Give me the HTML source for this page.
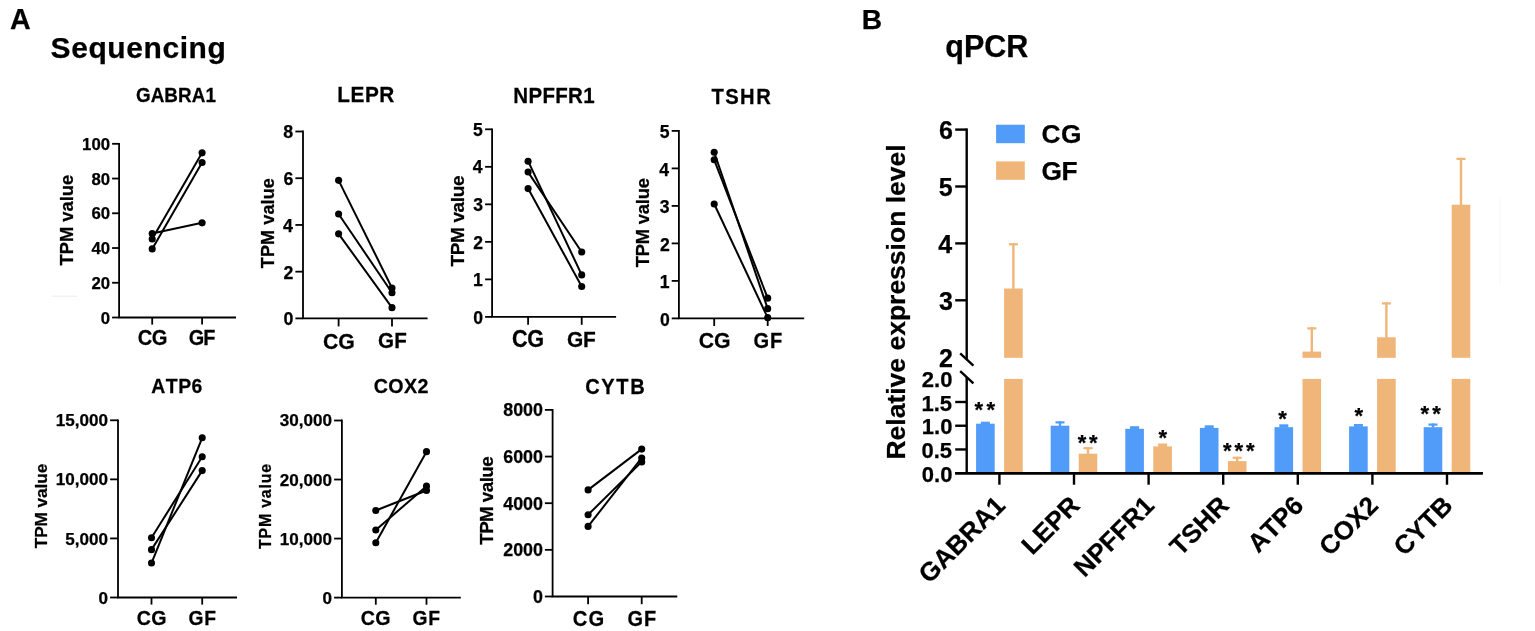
<!DOCTYPE html>
<html><head><meta charset="utf-8"><title>Sequencing and qPCR</title>
<style>
html,body{margin:0;padding:0;background:#fff;}
body{width:1535px;height:631px;overflow:hidden;}
svg{display:block;font-family:"Liberation Sans", Arial, Helvetica, sans-serif;font-weight:bold;font-kerning:none;}
text{stroke:#000;stroke-width:0.25px;}
</style></head>
<body>
<svg width="1535" height="631" viewBox="0 0 1535 631" fill="#000">
<rect width="1535" height="631" fill="#fff"/>
<text transform="translate(9.94,29.05)" font-size="28.63">A</text>
<text transform="translate(50.59,57.90)" font-size="30.00" letter-spacing="0.572">Sequencing</text>
<path d="M119.10,142.90V317.50H236.00" fill="none" stroke="#000" stroke-width="1.8" stroke-linejoin="miter"/>
<line x1="112.10" y1="317.50" x2="119.10" y2="317.50" stroke="#000" stroke-width="1.8"/>
<text x="100.75" y="323.58" font-size="16.80">0</text>
<line x1="112.10" y1="282.76" x2="119.10" y2="282.76" stroke="#000" stroke-width="1.8"/>
<text x="91.40" y="288.84" font-size="16.80">20</text>
<line x1="112.10" y1="248.02" x2="119.10" y2="248.02" stroke="#000" stroke-width="1.8"/>
<text x="91.40" y="254.10" font-size="16.80">40</text>
<line x1="112.10" y1="213.28" x2="119.10" y2="213.28" stroke="#000" stroke-width="1.8"/>
<text x="91.40" y="219.36" font-size="16.80">60</text>
<line x1="112.10" y1="178.54" x2="119.10" y2="178.54" stroke="#000" stroke-width="1.8"/>
<text x="91.40" y="184.62" font-size="16.80">80</text>
<line x1="112.10" y1="143.80" x2="119.10" y2="143.80" stroke="#000" stroke-width="1.8"/>
<text x="82.06" y="149.88" font-size="16.80">100</text>
<line x1="152.20" y1="317.50" x2="152.20" y2="324.60" stroke="#000" stroke-width="1.8"/>
<line x1="202.10" y1="317.50" x2="202.10" y2="324.60" stroke="#000" stroke-width="1.8"/>
<text transform="translate(137.72,345.09) scale(0.935,1)" font-size="21.54" letter-spacing="-0.571">CG</text>
<text transform="translate(188.73,344.94) scale(0.935,1)" font-size="21.33" letter-spacing="-0.956">GF</text>
<text transform="translate(135.88,101.75) scale(0.935,1)" font-size="20.20" letter-spacing="0.076">GABRA1</text>
<text transform="translate(73.07,265.56) rotate(-90)" font-size="18.38">TPM value</text>
<line x1="152.20" y1="233.60" x2="202.10" y2="222.83" stroke="#000" stroke-width="2.0"/>
<line x1="152.20" y1="238.99" x2="202.10" y2="152.83" stroke="#000" stroke-width="2.0"/>
<line x1="152.20" y1="248.89" x2="202.10" y2="162.56" stroke="#000" stroke-width="2.0"/>
<circle cx="152.20" cy="233.60" r="3.55"/>
<circle cx="202.10" cy="222.83" r="3.55"/>
<circle cx="152.20" cy="238.99" r="3.55"/>
<circle cx="202.10" cy="152.83" r="3.55"/>
<circle cx="152.20" cy="248.89" r="3.55"/>
<circle cx="202.10" cy="162.56" r="3.55"/>
<path d="M303.00,130.60V318.40H427.60" fill="none" stroke="#000" stroke-width="1.8" stroke-linejoin="miter"/>
<line x1="295.40" y1="318.40" x2="303.00" y2="318.40" stroke="#000" stroke-width="1.8"/>
<text x="283.53" y="325.32" font-size="17.80">0</text>
<line x1="295.40" y1="271.67" x2="303.00" y2="271.67" stroke="#000" stroke-width="1.8"/>
<text x="283.51" y="278.60" font-size="17.80">2</text>
<line x1="295.40" y1="224.95" x2="303.00" y2="224.95" stroke="#000" stroke-width="1.8"/>
<text x="282.90" y="231.87" font-size="17.80">4</text>
<line x1="295.40" y1="178.22" x2="303.00" y2="178.22" stroke="#000" stroke-width="1.8"/>
<text x="283.44" y="185.15" font-size="17.80">6</text>
<line x1="295.40" y1="131.50" x2="303.00" y2="131.50" stroke="#000" stroke-width="1.8"/>
<text x="283.35" y="138.42" font-size="17.80">8</text>
<line x1="338.60" y1="318.40" x2="338.60" y2="326.40" stroke="#000" stroke-width="1.8"/>
<line x1="392.00" y1="318.40" x2="392.00" y2="326.40" stroke="#000" stroke-width="1.8"/>
<text transform="translate(322.88,348.53) scale(0.935,1)" font-size="22.74">CG</text>
<text transform="translate(377.96,348.23) scale(0.935,1)" font-size="22.03" letter-spacing="0.257">GF</text>
<text transform="translate(337.16,102.25) scale(0.935,1)" font-size="22.24" letter-spacing="0.628">LEPR</text>
<text transform="translate(273.57,268.25) rotate(-90)" font-size="18.11" letter-spacing="0.069">TPM value</text>
<line x1="338.60" y1="180.33" x2="392.00" y2="288.03" stroke="#000" stroke-width="2.0"/>
<line x1="338.60" y1="213.97" x2="392.00" y2="292.70" stroke="#000" stroke-width="2.0"/>
<line x1="338.60" y1="233.83" x2="392.00" y2="307.65" stroke="#000" stroke-width="2.0"/>
<circle cx="338.60" cy="180.33" r="3.55"/>
<circle cx="392.00" cy="288.03" r="3.55"/>
<circle cx="338.60" cy="213.97" r="3.55"/>
<circle cx="392.00" cy="292.70" r="3.55"/>
<circle cx="338.60" cy="233.83" r="3.55"/>
<circle cx="392.00" cy="307.65" r="3.55"/>
<path d="M492.10,128.40V316.90H616.10" fill="none" stroke="#000" stroke-width="1.8" stroke-linejoin="miter"/>
<line x1="485.10" y1="316.90" x2="492.10" y2="316.90" stroke="#000" stroke-width="1.8"/>
<text x="473.33" y="323.55" font-size="17.60">0</text>
<line x1="485.10" y1="279.38" x2="492.10" y2="279.38" stroke="#000" stroke-width="1.8"/>
<text x="473.10" y="286.03" font-size="17.60">1</text>
<line x1="485.10" y1="241.86" x2="492.10" y2="241.86" stroke="#000" stroke-width="1.8"/>
<text x="473.32" y="248.51" font-size="17.60">2</text>
<line x1="485.10" y1="204.34" x2="492.10" y2="204.34" stroke="#000" stroke-width="1.8"/>
<text x="473.25" y="210.99" font-size="17.60">3</text>
<line x1="485.10" y1="166.82" x2="492.10" y2="166.82" stroke="#000" stroke-width="1.8"/>
<text x="472.71" y="173.47" font-size="17.60">4</text>
<line x1="485.10" y1="129.30" x2="492.10" y2="129.30" stroke="#000" stroke-width="1.8"/>
<text x="473.10" y="135.95" font-size="17.60">5</text>
<line x1="528.10" y1="316.90" x2="528.10" y2="324.80" stroke="#000" stroke-width="1.8"/>
<line x1="581.70" y1="316.90" x2="581.70" y2="324.80" stroke="#000" stroke-width="1.8"/>
<text transform="translate(511.96,347.02) scale(0.935,1)" font-size="23.16" letter-spacing="-0.273">CG</text>
<text transform="translate(567.09,346.68) scale(0.935,1)" font-size="22.39" letter-spacing="-0.259">GF</text>
<text transform="translate(513.28,102.95) scale(0.935,1)" font-size="21.95" letter-spacing="0.328">NPFFR1</text>
<text transform="translate(464.06,266.46) rotate(-90)" font-size="19.06" letter-spacing="-0.403">TPM value</text>
<line x1="528.10" y1="161.19" x2="581.70" y2="274.88" stroke="#000" stroke-width="2.0"/>
<line x1="528.10" y1="172.07" x2="581.70" y2="251.99" stroke="#000" stroke-width="2.0"/>
<line x1="528.10" y1="188.58" x2="581.70" y2="286.51" stroke="#000" stroke-width="2.0"/>
<circle cx="528.10" cy="161.19" r="3.55"/>
<circle cx="581.70" cy="274.88" r="3.55"/>
<circle cx="528.10" cy="172.07" r="3.55"/>
<circle cx="581.70" cy="251.99" r="3.55"/>
<circle cx="528.10" cy="188.58" r="3.55"/>
<circle cx="581.70" cy="286.51" r="3.55"/>
<path d="M678.90,130.00V318.40H804.20" fill="none" stroke="#000" stroke-width="1.8" stroke-linejoin="miter"/>
<line x1="671.70" y1="318.40" x2="678.90" y2="318.40" stroke="#000" stroke-width="1.8"/>
<text x="659.93" y="325.55" font-size="17.60">0</text>
<line x1="671.70" y1="280.90" x2="678.90" y2="280.90" stroke="#000" stroke-width="1.8"/>
<text x="659.70" y="288.05" font-size="17.60">1</text>
<line x1="671.70" y1="243.40" x2="678.90" y2="243.40" stroke="#000" stroke-width="1.8"/>
<text x="659.92" y="250.55" font-size="17.60">2</text>
<line x1="671.70" y1="205.90" x2="678.90" y2="205.90" stroke="#000" stroke-width="1.8"/>
<text x="659.85" y="213.05" font-size="17.60">3</text>
<line x1="671.70" y1="168.40" x2="678.90" y2="168.40" stroke="#000" stroke-width="1.8"/>
<text x="659.31" y="175.55" font-size="17.60">4</text>
<line x1="671.70" y1="130.90" x2="678.90" y2="130.90" stroke="#000" stroke-width="1.8"/>
<text x="659.70" y="138.05" font-size="17.60">5</text>
<line x1="714.20" y1="318.40" x2="714.20" y2="326.00" stroke="#000" stroke-width="1.8"/>
<line x1="767.70" y1="318.40" x2="767.70" y2="326.00" stroke="#000" stroke-width="1.8"/>
<text transform="translate(698.68,348.23) scale(0.935,1)" font-size="22.74">CG</text>
<text transform="translate(753.53,347.64) scale(0.935,1)" font-size="21.47" letter-spacing="0.945">GF</text>
<text transform="translate(711.42,104.14) scale(0.935,1)" font-size="21.61" letter-spacing="1.547">TSHR</text>
<text transform="translate(649.07,267.26) rotate(-90)" font-size="18.38" letter-spacing="-0.198">TPM value</text>
<line x1="714.20" y1="152.28" x2="767.70" y2="308.65" stroke="#000" stroke-width="2.0"/>
<line x1="714.20" y1="159.77" x2="767.70" y2="298.15" stroke="#000" stroke-width="2.0"/>
<line x1="714.20" y1="204.03" x2="767.70" y2="317.65" stroke="#000" stroke-width="2.0"/>
<circle cx="714.20" cy="152.28" r="3.55"/>
<circle cx="767.70" cy="308.65" r="3.55"/>
<circle cx="714.20" cy="159.77" r="3.55"/>
<circle cx="767.70" cy="298.15" r="3.55"/>
<circle cx="714.20" cy="204.03" r="3.55"/>
<circle cx="767.70" cy="317.65" r="3.55"/>
<path d="M118.00,419.40V597.50H237.00" fill="none" stroke="#000" stroke-width="1.8" stroke-linejoin="miter"/>
<line x1="110.10" y1="597.50" x2="118.00" y2="597.50" stroke="#000" stroke-width="1.8"/>
<text x="98.59" y="603.58" font-size="17.10">0</text>
<line x1="110.10" y1="538.43" x2="118.00" y2="538.43" stroke="#000" stroke-width="1.8"/>
<text x="65.31" y="544.52" font-size="17.10">5,000</text>
<line x1="110.10" y1="479.37" x2="118.00" y2="479.37" stroke="#000" stroke-width="1.8"/>
<text x="55.80" y="485.45" font-size="17.10">10,000</text>
<line x1="110.10" y1="420.30" x2="118.00" y2="420.30" stroke="#000" stroke-width="1.8"/>
<text x="55.80" y="426.38" font-size="17.10">15,000</text>
<line x1="151.50" y1="597.50" x2="151.50" y2="604.60" stroke="#000" stroke-width="1.8"/>
<line x1="202.20" y1="597.50" x2="202.20" y2="604.60" stroke="#000" stroke-width="1.8"/>
<text transform="translate(136.74,625.14) scale(0.935,1)" font-size="21.04" letter-spacing="0.440">CG</text>
<text transform="translate(188.46,625.05) scale(0.935,1)" font-size="20.62" letter-spacing="0.772">GF</text>
<text transform="translate(151.27,392.55) scale(0.935,1)" font-size="20.76" letter-spacing="0.557">ATP6</text>
<text transform="translate(46.68,548.24) rotate(-90)" font-size="17.23" letter-spacing="-0.089">TPM value</text>
<line x1="151.50" y1="537.72" x2="202.20" y2="456.80" stroke="#000" stroke-width="2.0"/>
<line x1="151.50" y1="549.66" x2="202.20" y2="470.62" stroke="#000" stroke-width="2.0"/>
<line x1="151.50" y1="563.01" x2="202.20" y2="437.78" stroke="#000" stroke-width="2.0"/>
<circle cx="151.50" cy="537.72" r="3.55"/>
<circle cx="202.20" cy="456.80" r="3.55"/>
<circle cx="151.50" cy="549.66" r="3.55"/>
<circle cx="202.20" cy="470.62" r="3.55"/>
<circle cx="151.50" cy="563.01" r="3.55"/>
<circle cx="202.20" cy="437.78" r="3.55"/>
<path d="M341.90,419.60V597.60H460.80" fill="none" stroke="#000" stroke-width="1.8" stroke-linejoin="miter"/>
<line x1="334.10" y1="597.60" x2="341.90" y2="597.60" stroke="#000" stroke-width="1.8"/>
<text x="322.59" y="603.58" font-size="17.10">0</text>
<line x1="334.10" y1="538.57" x2="341.90" y2="538.57" stroke="#000" stroke-width="1.8"/>
<text x="279.80" y="544.55" font-size="17.10">10,000</text>
<line x1="334.10" y1="479.53" x2="341.90" y2="479.53" stroke="#000" stroke-width="1.8"/>
<text x="279.80" y="485.52" font-size="17.10">20,000</text>
<line x1="334.10" y1="420.50" x2="341.90" y2="420.50" stroke="#000" stroke-width="1.8"/>
<text x="279.80" y="426.48" font-size="17.10">30,000</text>
<line x1="375.80" y1="597.60" x2="375.80" y2="604.70" stroke="#000" stroke-width="1.8"/>
<line x1="426.50" y1="597.60" x2="426.50" y2="604.70" stroke="#000" stroke-width="1.8"/>
<text transform="translate(360.84,625.14) scale(0.935,1)" font-size="21.04" letter-spacing="0.333">CG</text>
<text transform="translate(412.56,625.05) scale(0.935,1)" font-size="20.62" letter-spacing="0.772">GF</text>
<text transform="translate(373.64,392.54) scale(0.935,1)" font-size="21.04" letter-spacing="0.432">COX2</text>
<text transform="translate(270.59,549.03) rotate(-90)" font-size="15.93" letter-spacing="0.803">TPM value</text>
<line x1="375.80" y1="510.53" x2="426.50" y2="490.45" stroke="#000" stroke-width="2.0"/>
<line x1="375.80" y1="530.01" x2="426.50" y2="486.15" stroke="#000" stroke-width="2.0"/>
<line x1="375.80" y1="542.70" x2="426.50" y2="451.67" stroke="#000" stroke-width="2.0"/>
<circle cx="375.80" cy="510.53" r="3.55"/>
<circle cx="426.50" cy="490.45" r="3.55"/>
<circle cx="375.80" cy="530.01" r="3.55"/>
<circle cx="426.50" cy="486.15" r="3.55"/>
<circle cx="375.80" cy="542.70" r="3.55"/>
<circle cx="426.50" cy="451.67" r="3.55"/>
<path d="M552.60,409.00V596.50H677.30" fill="none" stroke="#000" stroke-width="1.8" stroke-linejoin="miter"/>
<line x1="544.90" y1="596.50" x2="552.60" y2="596.50" stroke="#000" stroke-width="1.8"/>
<text x="533.00" y="602.94" font-size="17.85">0</text>
<line x1="544.90" y1="549.85" x2="552.60" y2="549.85" stroke="#000" stroke-width="1.8"/>
<text x="503.22" y="556.29" font-size="17.85">2000</text>
<line x1="544.90" y1="503.20" x2="552.60" y2="503.20" stroke="#000" stroke-width="1.8"/>
<text x="503.22" y="509.64" font-size="17.85">4000</text>
<line x1="544.90" y1="456.55" x2="552.60" y2="456.55" stroke="#000" stroke-width="1.8"/>
<text x="503.22" y="462.99" font-size="17.85">6000</text>
<line x1="544.90" y1="409.90" x2="552.60" y2="409.90" stroke="#000" stroke-width="1.8"/>
<text x="503.22" y="416.34" font-size="17.85">8000</text>
<line x1="588.10" y1="596.50" x2="588.10" y2="604.20" stroke="#000" stroke-width="1.8"/>
<line x1="641.70" y1="596.50" x2="641.70" y2="604.20" stroke="#000" stroke-width="1.8"/>
<text transform="translate(572.82,625.64) scale(0.935,1)" font-size="21.61" letter-spacing="1.148">CG</text>
<text transform="translate(627.53,625.54) scale(0.935,1)" font-size="21.33" letter-spacing="0.916">GF</text>
<text transform="translate(585.23,393.64) scale(0.935,1)" font-size="21.47" letter-spacing="1.708">CYTB</text>
<text transform="translate(492.57,544.76) rotate(-90)" font-size="18.79" letter-spacing="-0.561">TPM value</text>
<line x1="588.10" y1="489.90" x2="641.70" y2="449.09" stroke="#000" stroke-width="2.0"/>
<line x1="588.10" y1="514.75" x2="641.70" y2="461.91" stroke="#000" stroke-width="2.0"/>
<line x1="588.10" y1="526.41" x2="641.70" y2="457.95" stroke="#000" stroke-width="2.0"/>
<circle cx="588.10" cy="489.90" r="3.55"/>
<circle cx="641.70" cy="449.09" r="3.55"/>
<circle cx="588.10" cy="514.75" r="3.55"/>
<circle cx="641.70" cy="461.91" r="3.55"/>
<circle cx="588.10" cy="526.41" r="3.55"/>
<circle cx="641.70" cy="457.95" r="3.55"/>
<line x1="52.00" y1="296.20" x2="77.60" y2="296.20" stroke="#efefef" stroke-width="1.2"/>
<text transform="translate(861.77,28.95)" font-size="28.13">B</text>
<text transform="translate(945.30,56.85)" font-size="30.50" letter-spacing="-0.050">qPCR</text>
<line x1="966.70" y1="128.40" x2="966.70" y2="359.30" stroke="#000" stroke-width="2.4"/>
<line x1="966.70" y1="377.20" x2="966.70" y2="473.20" stroke="#000" stroke-width="2.4"/>
<line x1="960.20" y1="353.30" x2="973.40" y2="365.60" stroke="#000" stroke-width="2.4"/>
<line x1="960.20" y1="371.10" x2="973.40" y2="383.40" stroke="#000" stroke-width="2.4"/>
<line x1="955.20" y1="300.30" x2="966.70" y2="300.30" stroke="#000" stroke-width="2.4"/>
<line x1="955.20" y1="243.40" x2="966.70" y2="243.40" stroke="#000" stroke-width="2.4"/>
<line x1="955.20" y1="186.50" x2="966.70" y2="186.50" stroke="#000" stroke-width="2.4"/>
<line x1="955.20" y1="129.60" x2="966.70" y2="129.60" stroke="#000" stroke-width="2.4"/>
<line x1="955.20" y1="449.46" x2="966.70" y2="449.46" stroke="#000" stroke-width="2.4"/>
<line x1="955.20" y1="425.73" x2="966.70" y2="425.73" stroke="#000" stroke-width="2.4"/>
<line x1="955.20" y1="402.00" x2="966.70" y2="402.00" stroke="#000" stroke-width="2.4"/>
<text x="939.00" y="310.10" font-size="25.00">3</text>
<text x="938.23" y="253.20" font-size="25.00">4</text>
<text x="938.79" y="196.30" font-size="25.00">5</text>
<text x="939.00" y="139.40" font-size="25.00">6</text>
<text x="939.10" y="367.20" font-size="25.00">2</text>
<text x="921.82" y="481.77" font-size="22.00">0.0</text>
<text x="921.53" y="458.03" font-size="22.00">0.5</text>
<text x="921.82" y="434.30" font-size="22.00">1.0</text>
<text x="921.53" y="410.56" font-size="22.00">1.5</text>
<text x="921.82" y="386.83" font-size="22.00">2.0</text>
<line x1="955.20" y1="473.20" x2="1482.80" y2="473.20" stroke="#000" stroke-width="2.4"/>
<line x1="999.40" y1="473.20" x2="999.40" y2="484.70" stroke="#000" stroke-width="2.4"/>
<rect x="976.10" y="423.70" width="18.60" height="49.50" fill="#509cf8"/>
<rect x="980.90" y="421.70" width="9.00" height="2.50" fill="#509cf8"/>
<rect x="1004.10" y="378.90" width="18.60" height="94.30" fill="#f0b578"/>
<rect x="1004.10" y="288.50" width="18.60" height="69.30" fill="#f0b578"/>
<rect x="1012.20" y="243.20" width="2.40" height="45.80" fill="#f0b578"/>
<rect x="1008.90" y="243.20" width="9.00" height="2.20" fill="#f0b578"/>
<text font-size="25.9" text-anchor="end" transform="translate(1006.60,507.10) rotate(-45)">GABRA1</text>
<line x1="1074.00" y1="473.20" x2="1074.00" y2="484.70" stroke="#000" stroke-width="2.4"/>
<rect x="1050.70" y="425.70" width="18.60" height="47.50" fill="#509cf8"/>
<rect x="1058.80" y="421.30" width="2.40" height="4.90" fill="#509cf8"/>
<rect x="1055.50" y="421.30" width="9.00" height="2.20" fill="#509cf8"/>
<rect x="1078.70" y="453.70" width="18.60" height="19.50" fill="#f0b578"/>
<rect x="1086.80" y="447.10" width="2.40" height="7.10" fill="#f0b578"/>
<rect x="1083.50" y="447.10" width="9.00" height="2.20" fill="#f0b578"/>
<text font-size="25.9" text-anchor="end" transform="translate(1081.20,507.10) rotate(-45)">LEPR</text>
<line x1="1148.60" y1="473.20" x2="1148.60" y2="484.70" stroke="#000" stroke-width="2.4"/>
<rect x="1125.30" y="428.80" width="18.60" height="44.40" fill="#509cf8"/>
<rect x="1130.10" y="426.20" width="9.00" height="3.10" fill="#509cf8"/>
<rect x="1153.30" y="446.40" width="18.60" height="26.80" fill="#f0b578"/>
<rect x="1158.10" y="443.50" width="9.00" height="3.40" fill="#f0b578"/>
<text font-size="25.9" text-anchor="end" transform="translate(1155.80,507.10) rotate(-45)">NPFFR1</text>
<line x1="1223.20" y1="473.20" x2="1223.20" y2="484.70" stroke="#000" stroke-width="2.4"/>
<rect x="1199.90" y="427.90" width="18.60" height="45.30" fill="#509cf8"/>
<rect x="1204.70" y="425.30" width="9.00" height="3.10" fill="#509cf8"/>
<rect x="1227.90" y="461.10" width="18.60" height="12.10" fill="#f0b578"/>
<rect x="1236.00" y="456.70" width="2.40" height="4.90" fill="#f0b578"/>
<rect x="1232.70" y="456.70" width="9.00" height="2.20" fill="#f0b578"/>
<text font-size="25.9" text-anchor="end" transform="translate(1230.40,507.10) rotate(-45)">TSHR</text>
<line x1="1297.80" y1="473.20" x2="1297.80" y2="484.70" stroke="#000" stroke-width="2.4"/>
<rect x="1274.50" y="427.20" width="18.60" height="46.00" fill="#509cf8"/>
<rect x="1279.30" y="424.30" width="9.00" height="3.40" fill="#509cf8"/>
<rect x="1302.50" y="378.90" width="18.60" height="94.30" fill="#f0b578"/>
<rect x="1302.50" y="351.60" width="18.60" height="6.20" fill="#f0b578"/>
<rect x="1310.60" y="327.30" width="2.40" height="24.80" fill="#f0b578"/>
<rect x="1307.30" y="327.30" width="9.00" height="2.20" fill="#f0b578"/>
<text font-size="25.9" text-anchor="end" transform="translate(1305.00,507.10) rotate(-45)">ATP6</text>
<line x1="1372.40" y1="473.20" x2="1372.40" y2="484.70" stroke="#000" stroke-width="2.4"/>
<rect x="1349.10" y="426.40" width="18.60" height="46.80" fill="#509cf8"/>
<rect x="1353.90" y="424.00" width="9.00" height="2.90" fill="#509cf8"/>
<rect x="1377.10" y="378.90" width="18.60" height="94.30" fill="#f0b578"/>
<rect x="1377.10" y="337.30" width="18.60" height="20.50" fill="#f0b578"/>
<rect x="1385.20" y="302.30" width="2.40" height="35.50" fill="#f0b578"/>
<rect x="1381.90" y="302.30" width="9.00" height="2.20" fill="#f0b578"/>
<text font-size="25.9" text-anchor="end" transform="translate(1379.60,507.10) rotate(-45)">COX2</text>
<line x1="1447.00" y1="473.20" x2="1447.00" y2="484.70" stroke="#000" stroke-width="2.4"/>
<rect x="1423.70" y="427.20" width="18.60" height="46.00" fill="#509cf8"/>
<rect x="1431.80" y="423.50" width="2.40" height="4.20" fill="#509cf8"/>
<rect x="1428.50" y="423.50" width="9.00" height="2.20" fill="#509cf8"/>
<rect x="1451.70" y="378.90" width="18.60" height="94.30" fill="#f0b578"/>
<rect x="1451.70" y="204.70" width="18.60" height="153.10" fill="#f0b578"/>
<rect x="1459.80" y="157.80" width="2.40" height="47.40" fill="#f0b578"/>
<rect x="1456.50" y="157.80" width="9.00" height="2.20" fill="#f0b578"/>
<text font-size="25.9" text-anchor="end" transform="translate(1454.20,507.10) rotate(-45)">CYTB</text>
<text transform="translate(974.59,417.00)" font-size="22.00" letter-spacing="3.363">**</text>
<text transform="translate(1077.64,449.50)" font-size="22.00" letter-spacing="2.913">**</text>
<text transform="translate(1158.39,445.10)" font-size="22.00">*</text>
<text transform="translate(1222.89,458.20)" font-size="22.00" letter-spacing="2.951">***</text>
<text transform="translate(1278.19,425.90)" font-size="22.00">*</text>
<text transform="translate(1354.49,422.60)" font-size="22.00">*</text>
<text transform="translate(1420.49,421.20)" font-size="22.00" letter-spacing="3.163">**</text>
<line x1="955.20" y1="473.20" x2="1482.80" y2="473.20" stroke="#000" stroke-width="2.4"/>
<rect x="996.10" y="124.70" width="28.70" height="18.50" fill="#509cf8"/>
<rect x="996.10" y="161.40" width="28.70" height="18.40" fill="#f0b578"/>
<text transform="translate(1041.47,143.00)" font-size="26.30" letter-spacing="0.600">CG</text>
<text transform="translate(1041.47,179.80)" font-size="26.30" letter-spacing="-0.300">GF</text>
<text transform="translate(904.7,459.6) rotate(-90)" font-size="26.5">Relative expression level</text>
<line x1="1500.00" y1="198.00" x2="1500.00" y2="284.60" stroke="#f7f7f7" stroke-width="1"/>
</svg>
</body></html>
